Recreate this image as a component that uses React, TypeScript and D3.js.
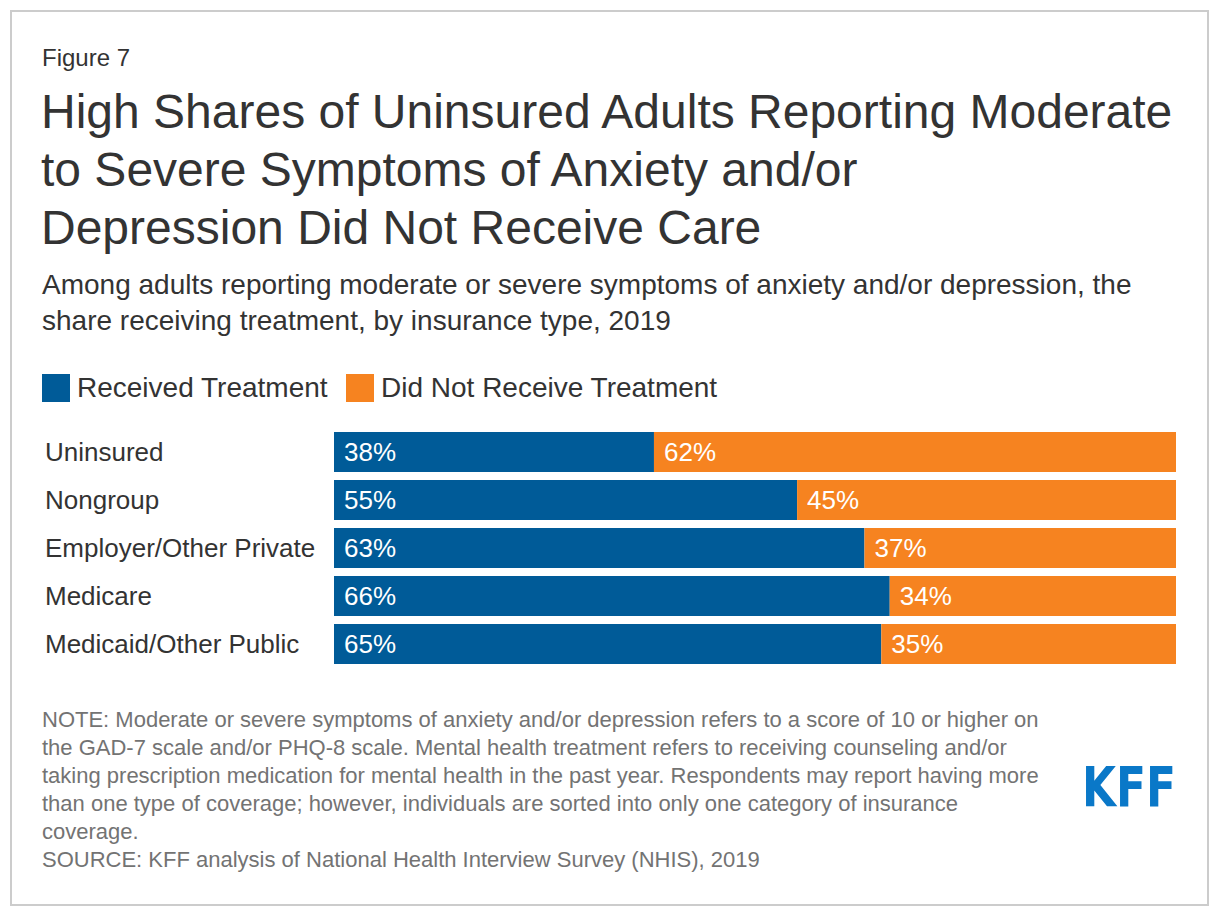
import * as d3 from "d3";

const categories = [
  "Uninsured",
  "Nongroup",
  "Employer/Other Private",
  "Medicare",
  "Medicaid/Other Public",
];
const received = [38, 55, 63, 66, 65];
const notReceived = [62, 45, 37, 34, 35];
const seriesNames = ["Received Treatment", "Did Not Receive Treatment"];
const seriesColors = ["#005b98", "#f68320"];

const titleLines = [
  "High Shares of Uninsured Adults Reporting Moderate",
  "to Severe Symptoms of Anxiety and/or",
  "Depression Did Not Receive Care",
];
const subtitleLines = [
  "Among adults reporting moderate or severe symptoms of anxiety and/or depression, the",
  "share receiving treatment, by insurance type, 2019",
];
const noteLines = [
  "NOTE: Moderate or severe symptoms of anxiety and/or depression refers to a score of 10 or higher on",
  "the GAD-7 scale and/or PHQ-8 scale. Mental health treatment refers to receiving counseling and/or",
  "taking prescription medication for mental health in the past year. Respondents may report having more",
  "than one type of coverage; however, individuals are sorted into only one category of insurance",
  "coverage.",
  "SOURCE: KFF analysis of National Health Interview Survey (NHIS), 2019",
];

const W = 1220;
const H = 916;
const font = "'Liberation Sans', Arial, Helvetica, sans-serif";

export default function App() {
  const x = d3.scaleLinear().domain([0, 100]).range([334, 1176]);
  const y = d3
    .scaleBand<string>()
    .domain(categories)
    .range([432, 664])
    .paddingInner(1 / 6)
    .paddingOuter(0);

  return (
    <svg
      width={W}
      height={H}
      style={{ position: "absolute", left: 0, top: 0, display: "block" }}
      fontFamily={font}
    >
      <rect x={0} y={0} width={W} height={H} fill="#fff" />
      <rect x={11} y={11} width={1197} height={894} fill="none" stroke="#cccccc" strokeWidth={2} />

      <text x={42} y={66} fontSize={24} fill="#333">Figure 7</text>
      {titleLines.map((t, i) => (
        <text key={t} x={41} y={128 + i * 58} fontSize={48} fill="#333">{t}</text>
      ))}
      {subtitleLines.map((t, i) => (
        <text key={t} x={42} y={294 + i * 36} fontSize={28} fill="#333">{t}</text>
      ))}

      {/* legend */}
      <rect x={42} y={374} width={28} height={28} fill={seriesColors[0]} />
      <text x={77} y={397} fontSize={28} fill="#333">{seriesNames[0]}</text>
      <rect x={346} y={374} width={28} height={28} fill={seriesColors[1]} />
      <text x={381} y={397} fontSize={28} fill="#333">{seriesNames[1]}</text>

      {/* bars */}
      {categories.map((c, i) => {
        const y0 = y(c) ?? 0;
        const bw = y.bandwidth();
        return (
          <g key={c}>
            <text x={45} y={y0 + bw / 2 + 9} fontSize={26} fill="#333">{c}</text>
            <rect x={x(0)} y={y0} width={x(received[i]) - x(0)} height={bw} fill={seriesColors[0]} />
            <rect
              x={x(received[i])}
              y={y0}
              width={x(received[i] + notReceived[i]) - x(received[i])}
              height={bw}
              fill={seriesColors[1]}
            />
            <text x={x(0) + 10} y={y0 + bw / 2 + 9} fontSize={26} fill="#fff">{received[i]}%</text>
            <text x={x(received[i]) + 10} y={y0 + bw / 2 + 9} fontSize={26} fill="#fff">{notReceived[i]}%</text>
          </g>
        );
      })}

      {noteLines.map((t, i) => (
        <text key={t} x={42} y={727 + i * 28} fontSize={22} fill="#737373">{t}</text>
      ))}

      {/* logo */}
      <text
        x={1082}
        y={806}
        fontSize={56}
        fontWeight="bold"
        fontFamily="'DejaVu Sans', sans-serif"
        fill="#0a78c8"
        textLength={94}
        lengthAdjust="spacingAndGlyphs"
      >
        KFF
      </text>
    </svg>
  );
}
